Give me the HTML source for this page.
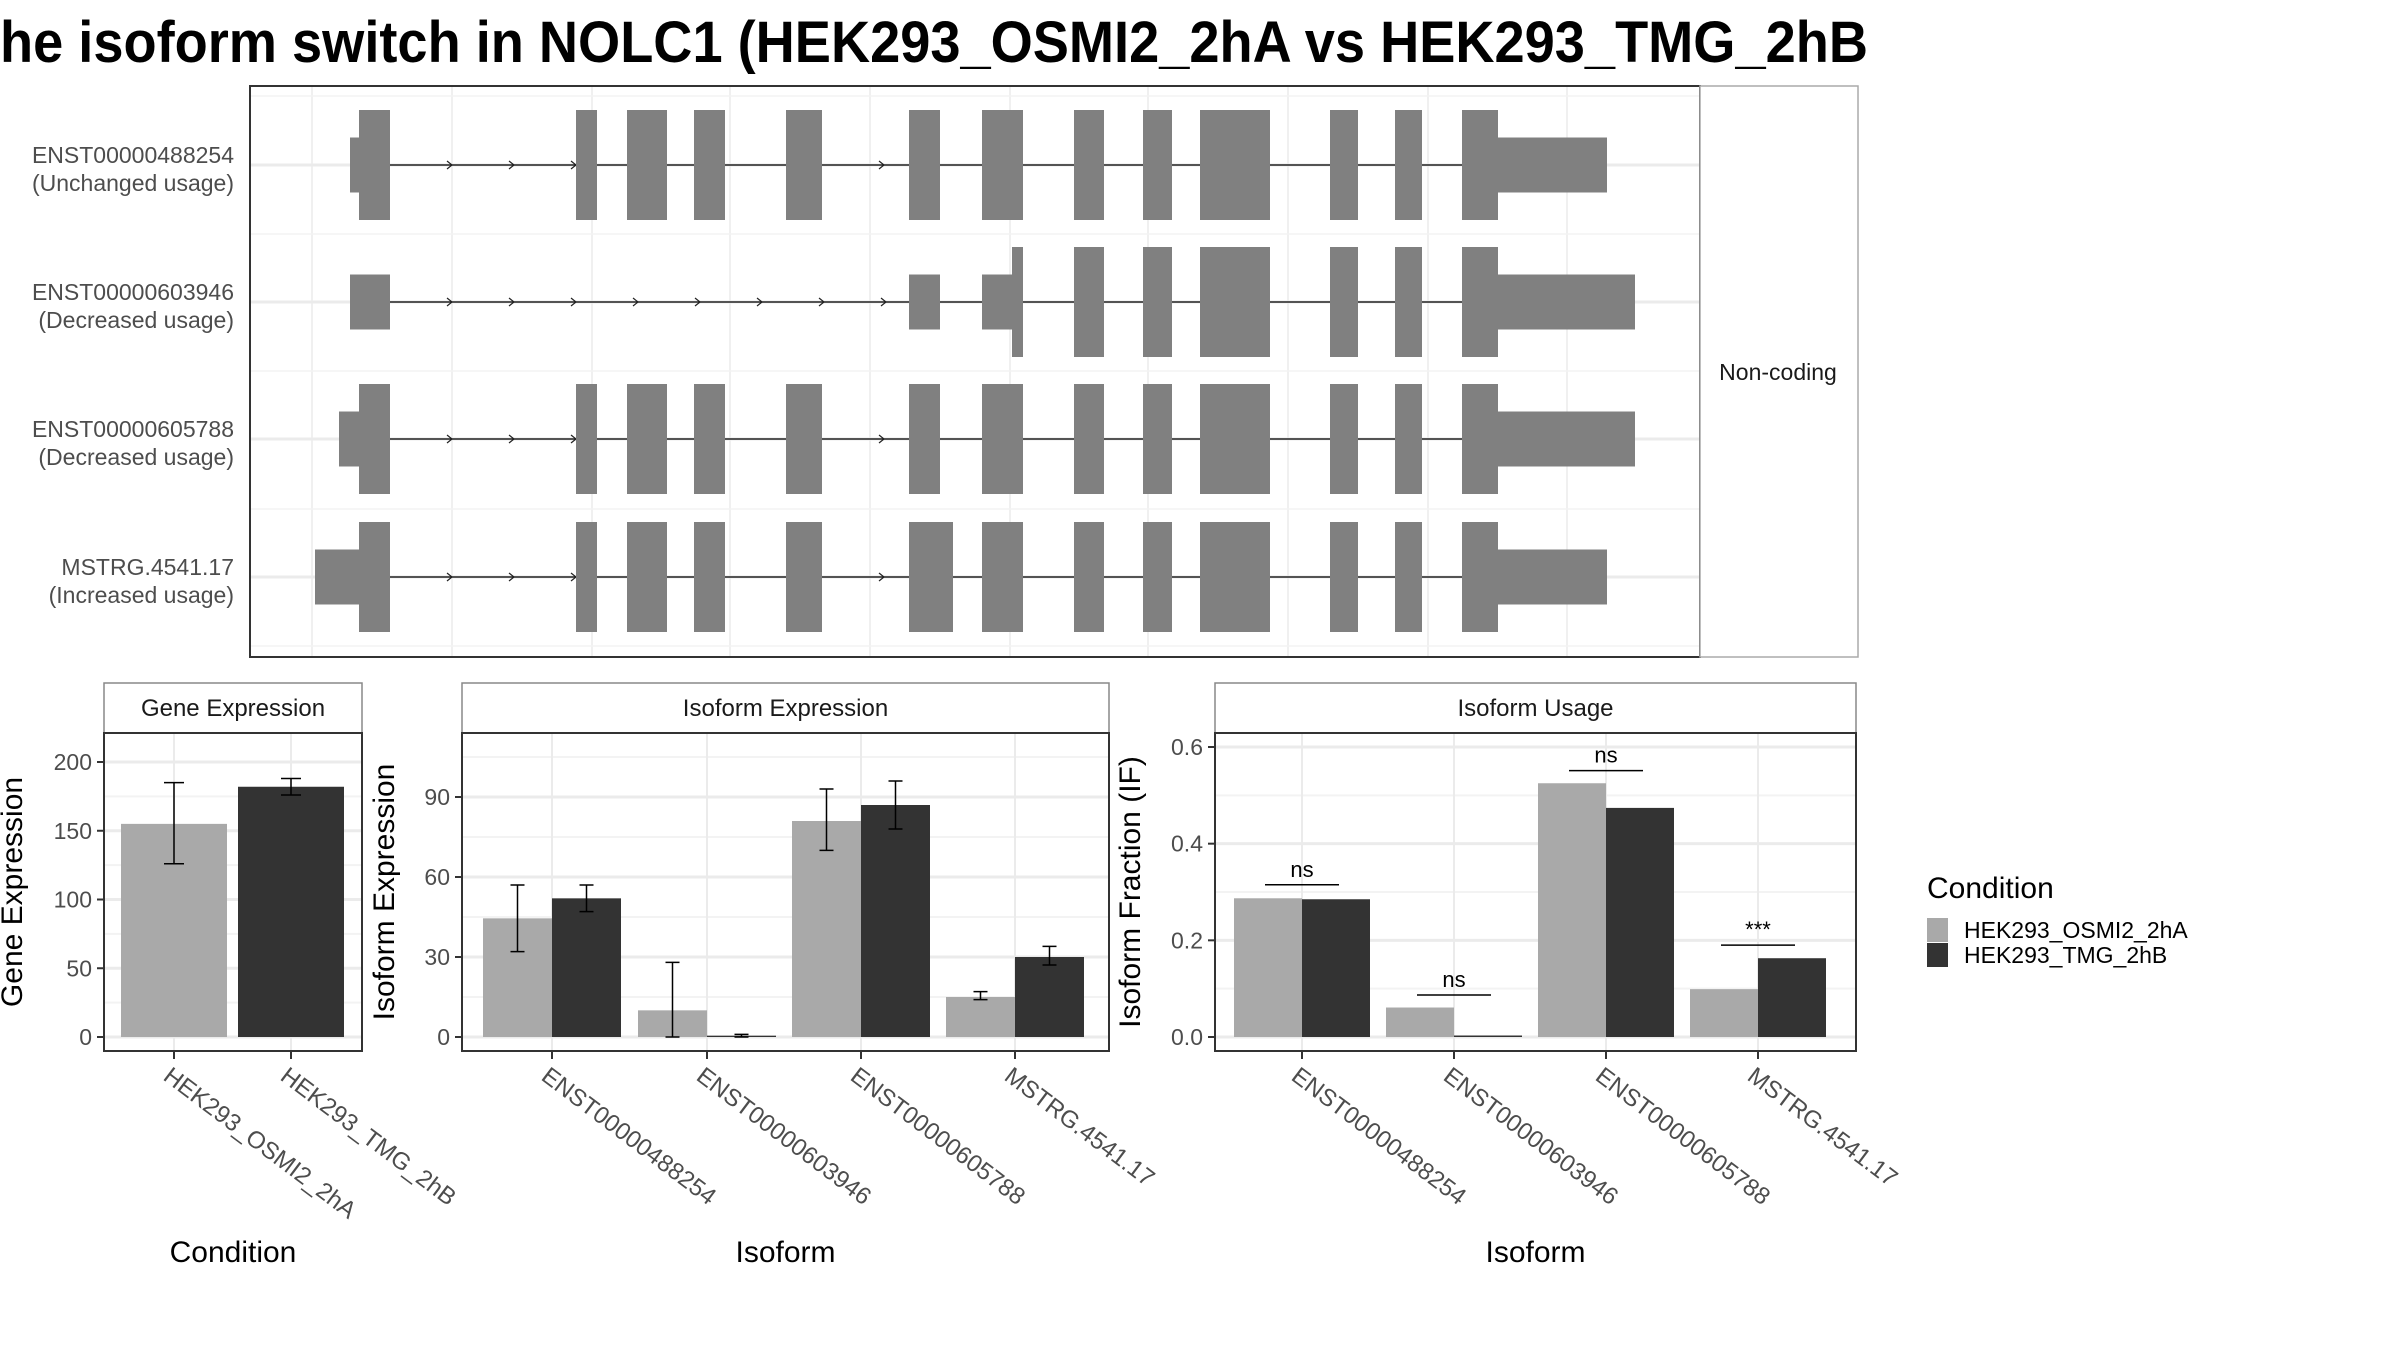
<!DOCTYPE html>
<html><head><meta charset="utf-8"><style>
html,body{margin:0;padding:0;background:#fff;}
svg{display:block;font-family:"Liberation Sans",sans-serif;}
</style></head><body>
<svg id="chart" width="2400" height="1350" viewBox="0 0 2400 1350" xmlns="http://www.w3.org/2000/svg">
<defs><clipPath id="titleclip"><rect x="0" y="0" width="1866" height="90"/></clipPath></defs>
<g clip-path="url(#titleclip)">
<text x="0" y="62" font-size="58" font-weight="bold" fill="#000" textLength="1886" lengthAdjust="spacingAndGlyphs">he isoform switch in NOLC1 (HEK293_OSMI2_2hA vs HEK293_TMG_2hB)</text>
</g>
<g id="topg"></g>
<g id="bottomg"></g>
</svg>
<script>
// ---------- data ----------
const transcriptNames = ["ENST00000488254","ENST00000603946","ENST00000605788","MSTRG.4541.17"];
const transcriptUsage = ["(Unchanged usage)","(Decreased usage)","(Decreased usage)","(Increased usage)"];
const exonsT1 = [[350,359,0],[359,390,1],[576,597,1],[627,667,1],[694,725,1],[786,822,1],[909,940,1],[982,1023,1],[1074,1104,1],[1143,1172,1],[1200,1270,1],[1330,1358,1],[1395,1422,1],[1462,1498,1],[1498,1607,0]];
const exonsT2 = [[350,390,0],[909,940,0],[982,1012,0],[1012,1023,1],[1074,1104,1],[1143,1172,1],[1200,1270,1],[1330,1358,1],[1395,1422,1],[1462,1498,1],[1498,1635,0]];
const exonsT3 = [[339,359,0],[359,390,1],[576,597,1],[627,667,1],[694,725,1],[786,822,1],[909,940,1],[982,1023,1],[1074,1104,1],[1143,1172,1],[1200,1270,1],[1330,1358,1],[1395,1422,1],[1462,1498,1],[1498,1635,0]];
const exonsT4 = [[315,359,0],[359,390,1],[576,597,1],[627,667,1],[694,725,1],[786,822,1],[909,953,1],[982,1023,1],[1074,1104,1],[1143,1172,1],[1200,1270,1],[1330,1358,1],[1395,1422,1],[1462,1498,1],[1498,1607,0]];

const conditions = ["HEK293_OSMI2_2hA","HEK293_TMG_2hB"];
const geneExpr = [155, 182];
const geneErrLow = [126, 176];
const geneErrHigh = [185, 188];

const isoforms = ["ENST00000488254","ENST00000603946","ENST00000605788","MSTRG.4541.17"];
const isoExprA = [44.5, 10, 81, 15];
const isoExprB = [52, 0.5, 87, 30];
const isoErrLowA = [32, 0, 70, 14];
const isoErrHighA = [57, 28, 93, 17];
const isoErrLowB = [47, 0, 78, 27];
const isoErrHighB = [57, 1, 96, 34];

const usageA = [0.287, 0.061, 0.525, 0.099];
const usageB = [0.285, 0.0, 0.474, 0.163];
const sigLevel = [0.315, 0.087, 0.551, 0.190];
const sigLabel = ["ns","ns","ns","***"];

const geneTicks = [0,50,100,150,200];
const isoTicks = [0,30,60,90];
const ifTicks = [0.0,0.2,0.4,0.6];
const ifTickLabels = ["0.0","0.2","0.4","0.6"];

// ---------- helpers ----------
const SVGNS="http://www.w3.org/2000/svg";
function el(tag, attrs, parent, text){
  const n=document.createElementNS(SVGNS,tag);
  for(const k in attrs) n.setAttribute(k,attrs[k]);
  if(text!==undefined) n.textContent=text;
  parent.appendChild(n); return n;
}
const GRAYA="#a9a9a9", DARK="#333333", GRID="#ebebeb", TICK="#4d4d4d";

// ---------- top transcript panel ----------
const topG=document.getElementById('topg');
const PL=250, PR=1700, PT=86, PB=657;
const bgTop=el('rect',{x:PL,y:PT,width:PR-PL,height:PB-PT,fill:"#fff"},topG);


[312,452,592,730,870,1010,1148,1288,1428,1567].forEach(x=>{
  const g=el('line',{x1:x,x2:x,y1:PT,y2:PB,stroke:GRID,"stroke-width":1.5},topG);
  
  
});
const rowC=[165,302,439,577];
[96,234,371,509,646].forEach(y=>{
  const g=el('line',{x1:PL,x2:PR,y1:y,y2:y,stroke:"#f3f3f3","stroke-width":1.5},topG);
  
  
});
rowC.forEach(y=>{
  const g=el('line',{x1:PL,x2:PR,y1:y,y2:y,stroke:GRID,"stroke-width":3},topG);
  
  
});
const allExons=[exonsT1,exonsT2,exonsT3,exonsT4];
allExons.forEach((ex,i)=>{
  const cy=rowC[i];
  const g=el('g',{},topG);
  
  
  const endX=ex[ex.length-1][0];
  const ln=el('line',{x1:ex[0][1],x2:endX,y1:cy,y2:cy,stroke:"#222","stroke-width":1.5},g);
  
  
  for(let k=0;k<ex.length-1;k++){
    const a=ex[k][1], b=ex[k+1][0];
    if(b-a>50){
      for(let x=a+62;x<=b;x+=62){
        const ar=el('path',{d:`M${x-5},${cy-4} L${x},${cy} L${x-5},${cy+4}`,fill:"none",stroke:"#222","stroke-width":1.2},g);
        
        
      }
    }
  }
  ex.forEach(x=>{
    const h=x[2]?110:55;
    const r=el('rect',{x:x[0],y:cy-h/2,width:x[1]-x[0],height:h,fill:"#808080"},g);
    
    
  });
  const t1=el('text',{x:234,y:cy-2,"font-size":23,fill:TICK,"text-anchor":"end"},topG,transcriptNames[i]);
  
  
  const t2=el('text',{x:234,y:cy+26,"font-size":23,fill:TICK,"text-anchor":"end"},topG,transcriptUsage[i]);
  
  
});
const bTop=el('rect',{x:PL,y:PT,width:PR-PL,height:PB-PT,fill:"none",stroke:"#333","stroke-width":2},topG);


const stripR=el('rect',{x:PR,y:PT,width:158,height:PB-PT,fill:"#fff",stroke:"#aaa","stroke-width":1.5},topG);


const nc=el('text',{x:1778,y:380,"font-size":23,fill:"#1a1a1a","text-anchor":"middle"},topG,"Non-coding");



// ---------- bottom panels ----------
const botG=document.getElementById('bottomg');
const STRIP_T=683, STRIP_B=733, PLOT_B=1051, Y0=1037;

function panel(name,x0,x1,title,yscale,ticks,tickLabels,yTitle,yTitleX,xCenters,xLabels,xTitle){
  const g=el('g',{},botG);
  
  
  const st=el('rect',{x:x0,y:STRIP_T,width:x1-x0,height:STRIP_B-STRIP_T,fill:"#fff",stroke:"#888","stroke-width":1.5},g);
  
  
  const stt=el('text',{x:(x0+x1)/2,y:STRIP_T+33,"font-size":24,fill:"#1a1a1a","text-anchor":"middle"},g,title);
  
  
  for(let i=0;i<ticks.length;i++){
    const t=ticks[i], tn=(i+1<ticks.length)?ticks[i+1]:t+(ticks[1]-ticks[0]);
    const ym=yscale((t+tn)/2);
    if(ym>STRIP_B){
      const m=el('line',{x1:x0,x2:x1,y1:ym,y2:ym,stroke:"#f3f3f3","stroke-width":2},g);
      
      
    }
  }
  ticks.forEach((t,i)=>{
    const y=yscale(t);
    const gl=el('line',{x1:x0,x2:x1,y1:y,y2:y,stroke:GRID,"stroke-width":3},g);
    
    
    const tk=el('line',{x1:x0-7,x2:x0,y1:y,y2:y,stroke:"#333","stroke-width":2},g);
    
    
    const tl=el('text',{x:x0-12,y:y+8,"font-size":23,fill:TICK,"text-anchor":"end"},g,tickLabels[i]);
    
    
  });
  xCenters.forEach((cx,i)=>{
    const gl=el('line',{x1:cx,x2:cx,y1:STRIP_B,y2:PLOT_B,stroke:GRID,"stroke-width":2},g);
    
    
    const tk=el('line',{x1:cx,x2:cx,y1:PLOT_B,y2:PLOT_B+8,stroke:"#333","stroke-width":2},g);
    
    
    const tl=el('text',{x:cx-12,y:PLOT_B+28,"font-size":24,fill:TICK,transform:`rotate(37 ${cx-12} ${PLOT_B+28})`},g,xLabels[i]);
    
    
  });
  const yt=el('text',{x:yTitleX,y:(STRIP_B+PLOT_B)/2,"font-size":30,fill:"#000","text-anchor":"middle",transform:`rotate(-90 ${yTitleX} ${(STRIP_B+PLOT_B)/2})`},g,yTitle);
  
  
  const xt=el('text',{x:(x0+x1)/2,y:1262,"font-size":30,fill:"#000","text-anchor":"middle"},g,xTitle);
  
  
  return g;
}
function border(g,x0,x1){
  const b=el('rect',{x:x0,y:STRIP_B,width:x1-x0,height:PLOT_B-STRIP_B,fill:"none",stroke:"#333","stroke-width":2},g);
  
  
}
function errbar(g,cx,lo,hi,ys,w){
  const p=el('path',{d:`M${cx-w},${ys(hi)} H${cx+w} M${cx},${ys(hi)} V${ys(lo)} M${cx-w},${ys(lo)} H${cx+w}`,stroke:"#000","stroke-width":1.5,fill:"none"},g);
  
  
}

// Gene expression
const gX0=104, gX1=362;
const gY=v=>Y0-v*(1037-762)/200;
const gCenters=[174,291];
const gp=panel('gene-expression',gX0,gX1,"Gene Expression",gY,geneTicks,geneTicks.map(String),"Gene Expression",22,gCenters,conditions,"Condition");
geneExpr.forEach((v,i)=>{
  const r=el('rect',{x:gCenters[i]-53,y:gY(v),width:106,height:gY(0)-gY(v),fill:i?DARK:GRAYA},gp);
  
  
  errbar(gp,gCenters[i],geneErrLow[i],geneErrHigh[i],gY,10);
});
border(gp,gX0,gX1);

// Isoform expression
const iX0=462, iX1=1109;
const iY=v=>Y0-v*(1037-797)/90;
const iCenters=[552,707,861,1015];
const ip=panel('isoform-expression',iX0,iX1,"Isoform Expression",iY,isoTicks,isoTicks.map(String),"Isoform Expression",394,iCenters,isoforms,"Isoform");
isoforms.forEach((n,i)=>{
  const cx=iCenters[i];
  const ra=el('rect',{x:cx-69,y:iY(isoExprA[i]),width:69,height:iY(0)-iY(isoExprA[i]),fill:GRAYA},ip);
  
  
  const rb=el('rect',{x:cx,y:iY(isoExprB[i]),width:69,height:iY(0)-iY(isoExprB[i]),fill:DARK},ip);
  
  
  errbar(ip,cx-34.5,isoErrLowA[i],isoErrHighA[i],iY,7);
  errbar(ip,cx+34.5,isoErrLowB[i],isoErrHighB[i],iY,7);
});
border(ip,iX0,iX1);

// Isoform usage
const uX0=1215, uX1=1856;
const uY=v=>Y0-v*(1037-747)/0.6;
const uCenters=[1302,1454,1606,1758];
const up=panel('isoform-usage',uX0,uX1,"Isoform Usage",uY,ifTicks,ifTickLabels,"Isoform Fraction (IF)",1140,uCenters,isoforms,"Isoform");
isoforms.forEach((n,i)=>{
  const cx=uCenters[i];
  const ra=el('rect',{x:cx-68,y:uY(usageA[i]),width:68,height:Math.max(1,uY(0)-uY(usageA[i])),fill:GRAYA},up);
  
  
  const rb=el('rect',{x:cx,y:Math.min(uY(usageB[i]),uY(0)-1.5),width:68,height:Math.max(1.5,uY(0)-uY(usageB[i])),fill:DARK},up);
  
  
  const sl=el('line',{x1:cx-37,x2:cx+37,y1:uY(sigLevel[i]),y2:uY(sigLevel[i]),stroke:"#000","stroke-width":1.5},up);
  
  
  const stx=el('text',{x:cx,y:uY(sigLevel[i])-8,"font-size":22,fill:"#000","text-anchor":"middle"},up,sigLabel[i]);
  
  
});
border(up,uX0,uX1);

// Legend
const lg=el('g',{},botG);


const lt=el('text',{x:1927,y:898,"font-size":30,fill:"#000"},lg,"Condition");


conditions.forEach((c,i)=>{
  const y=918+i*25;
  const sw=el('rect',{x:1927,y:y,width:21,height:24,fill:i?DARK:GRAYA},lg);
  
  
  const tx=el('text',{x:1964,y:y+20,"font-size":23,fill:"#000"},lg,c);
  
  
});
</script>
</body></html>
